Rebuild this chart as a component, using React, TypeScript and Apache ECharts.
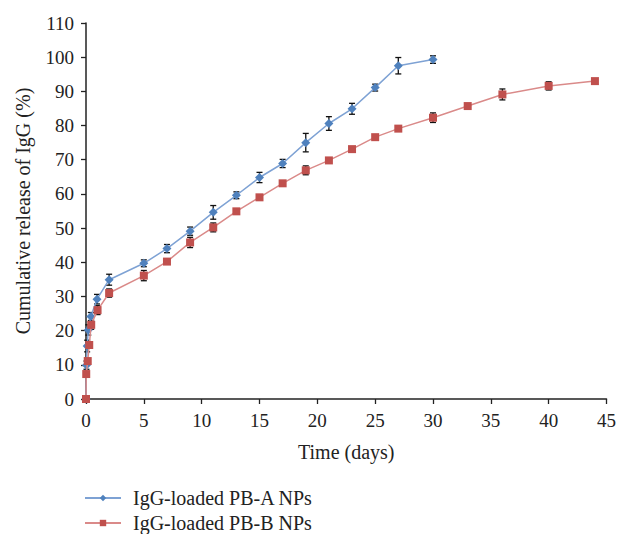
import React, { useEffect, useRef } from "react";
import * as echarts from "echarts";

const nameA = "IgG-loaded PB-A NPs";
const nameB = "IgG-loaded PB-B NPs";

const timeA = [0, 0.04, 0.1, 0.2, 0.42, 0.95, 2, 5, 7, 9, 11, 13, 15, 17, 19, 21, 23, 25, 27, 30];
const releaseA = [0, 9.9, 15.5, 20.2, 24.1, 29.2, 34.9, 39.7, 44.0, 49.1, 54.6, 59.6, 64.8, 68.9, 75.0, 80.6, 84.9, 91.1, 97.5, 99.3];
const errA = [0, 1.2, 1.7, 1.5, 1.2, 1.4, 1.6, 1.0, 1.2, 1.2, 2.0, 1.0, 1.5, 1.2, 2.7, 2.0, 1.6, 1.0, 2.4, 1.1];

const timeB = [0, 0.02, 0.15, 0.28, 0.45, 1, 2, 5, 7, 9, 11, 13, 15, 17, 19, 21, 23, 25, 27, 30, 33, 36, 40, 44];
const releaseB = [0, 7.3, 11.1, 15.8, 21.7, 26.0, 31.0, 36.1, 40.2, 45.8, 50.2, 54.9, 59.0, 63.1, 66.9, 69.8, 73.1, 76.6, 79.1, 82.3, 85.7, 89.1, 91.6, 93.0];
const errB = [0, 0, 0, 0, 1.3, 1.3, 1.2, 1.5, 0, 1.5, 1.3, 0, 0, 0, 1.3, 0, 0, 0, 0, 1.4, 0, 1.6, 1.2, 0];

const xTicks = [0, 5, 10, 15, 20, 25, 30, 35, 40, 45];
const yTicks = [0, 10, 20, 30, 40, 50, 60, 70, 80, 90, 100, 110];

const FONT = "'Liberation Serif', 'Times New Roman', serif";

function errorSeries(times: number[], vals: number[], errs: number[]) {
  return {
    type: "custom",
    z: 1,
    silent: true,
    data: times.map((t, i) => [t, vals[i], errs[i]]),
    encode: { x: 0, y: 1 },
    renderItem: (params: any, api: any) => {
      const x = api.value(0);
      const y = api.value(1);
      const e = api.value(2);
      if (!e) return { type: "group", children: [] };
      const top = api.coord([x, y + e]);
      const bot = api.coord([x, y - e]);
      const hw = 3;
      const st = { stroke: "#111", lineWidth: 1.3 };
      return {
        type: "group",
        children: [
          { type: "line", shape: { x1: top[0], y1: top[1], x2: bot[0], y2: bot[1] }, style: st },
          { type: "line", shape: { x1: top[0] - hw, y1: top[1], x2: top[0] + hw, y2: top[1] }, style: st },
          { type: "line", shape: { x1: bot[0] - hw, y1: bot[1], x2: bot[0] + hw, y2: bot[1] }, style: st },
        ],
      };
    },
  };
}

export default function App() {
  const ref = useRef<HTMLDivElement>(null);
  useEffect(() => {
    if (!ref.current) return;
    const chart = echarts.init(ref.current, undefined, { renderer: "svg" });
    const axisCommon = {
      axisLine: { show: true, lineStyle: { color: "#222", width: 1.5 } },
      axisTick: { show: true, inside: false, length: 5, lineStyle: { color: "#222", width: 1.3 } },
      splitLine: { show: false },
      axisLabel: { color: "#222", fontSize: 19, fontFamily: FONT, margin: 12 },
      nameTextStyle: { color: "#222", fontSize: 20, fontFamily: FONT },
      nameLocation: "middle",
    };
    chart.setOption({
      animation: false,
      backgroundColor: "#fff",
      grid: { left: 86, top: 23, right: 8, bottom: 135, containLabel: false },
      xAxis: {
        ...axisCommon,
        type: "value",
        min: xTicks[0],
        max: xTicks[xTicks.length - 1],
        interval: 5,
        name: "Time (days)",
        nameGap: 43,
      },
      yAxis: {
        ...axisCommon,
        type: "value",
        min: yTicks[0],
        max: yTicks[yTicks.length - 1],
        interval: 10,
        name: "Cumulative release of IgG (%)",
        nameGap: 53,
      },
      legend: {
        data: [nameA, nameB],
        orient: "vertical",
        left: 84,
        top: 488,
        height: 120,
        padding: 0,
        itemWidth: 36,
        itemHeight: 8,
        itemGap: 5,
        textStyle: { color: "#222", fontSize: 20, fontFamily: FONT, padding: [0, 0, 0, 7] },
      },
      series: [
        {
          name: nameA,
          type: "line",
          z: 3,
          data: timeA.map((t, i) => [t, releaseA[i]]),
          symbol: "diamond",
          symbolSize: 9,
          itemStyle: { color: "#4f81bd" },
          lineStyle: { color: "#7ea2d4", width: 1.5 },
        },
        {
          name: nameB,
          type: "line",
          z: 4,
          data: timeB.map((t, i) => [t, releaseB[i]]),
          symbol: "rect",
          symbolSize: 8,
          itemStyle: { color: "#c0504d" },
          lineStyle: { color: "#da8a89", width: 1.5 },
        },
        errorSeries(timeA, releaseA, errA),
        errorSeries(timeB, releaseB, errB),
      ],
    });
    return () => chart.dispose();
  }, []);
  return (
    <div
      ref={ref}
      style={{ position: "absolute", left: 0, top: 0, width: 619, height: 534 }}
    />
  );
}
